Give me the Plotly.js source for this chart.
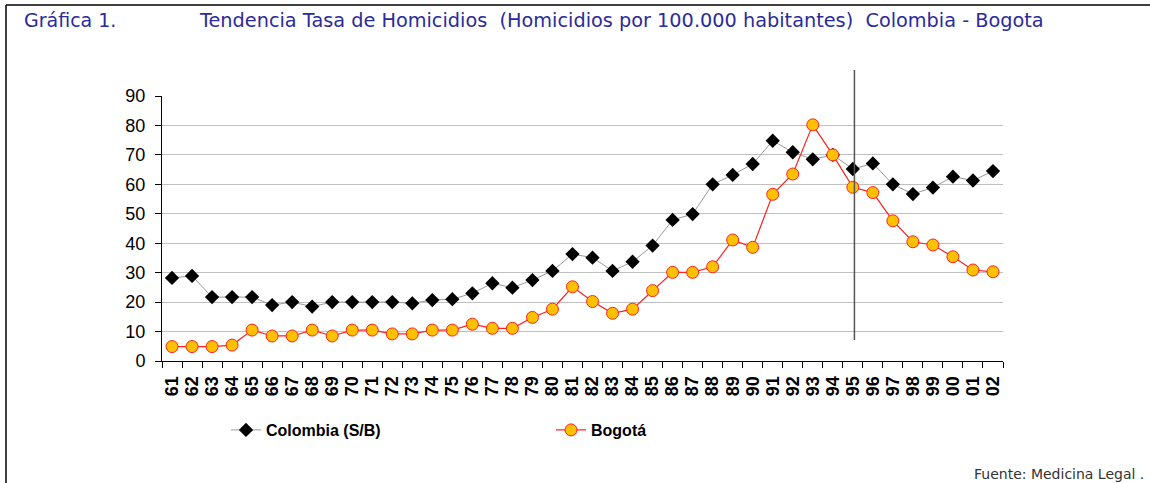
<!DOCTYPE html>
<html>
<head>
<meta charset="utf-8">
<script src="https://cdn.plot.ly/plotly-3.0.1.min.js"></script>
<style>
html,body{margin:0;padding:0;background:#fff;}
#chart{width:1150px;height:483px;}
</style>
</head>
<body>
<div id="chart"></div>
<script>
var years = ["61","62","63","64","65","66","67","68","69","70","71","72","73","74","75","76","77","78","79","80","81","82","83","84","85","86","87","88","89","90","91","92","93","94","95","96","97","98","99","00","01","02"];
var colombia = [28.2,28.9,21.7,21.7,21.7,19.0,20.0,18.5,20.0,20.0,20.0,20.0,19.6,20.7,21.0,23.0,26.4,24.9,27.5,30.6,36.3,35.1,30.6,33.7,39.2,47.9,49.9,60.0,63.2,66.9,74.8,70.9,68.5,70.0,65.2,67.1,60.0,56.7,58.9,62.6,61.3,64.5];
var bogota = [4.9,4.9,4.9,5.4,10.5,8.5,8.5,10.5,8.5,10.5,10.5,9.2,9.2,10.5,10.5,12.5,11.1,11.1,14.8,17.6,25.2,20.2,16.2,17.6,23.9,30.1,30.1,32.0,41.1,38.6,56.6,63.5,80.2,70.0,59.0,57.2,47.6,40.5,39.4,35.4,30.9,30.3];
var seriesNames = ["Colombia (S/B)", "Bogotá"];
var chartTitle = "Tendencia Tasa de Homicidios  (Homicidios por 100.000 habitantes)  Colombia - Bogota";
var chartLabel = "Gráfica 1.";
var sourceText = "Fuente: Medicina Legal .";

var traces = [
  {x: years, y: colombia, name: seriesNames[0], type: "scatter", mode: "lines+markers",
   line: {color: "#999999", width: 1},
   marker: {symbol: "diamond", size: 11, color: "#000000", line: {color: "#000000", width: 0}},
   legend: "legend"},
  {x: years, y: bogota, name: seriesNames[1], type: "scatter", mode: "lines+markers",
   line: {color: "#ff2020", width: 1.2},
   marker: {symbol: "circle", size: 12, color: "#ffc000", line: {color: "#ff2020", width: 1}},
   legend: "legend2"}
];

var L = 162, R = 1003, T = 96, B = 361, W = 1150, H = 483;
function px(x){ return (x - L) / (R - L); }
function py(y){ return (B - y) / (B - T); }

var layout = {
  width: W, height: H,
  margin: {l: L, r: W - R, t: T, b: H - B, pad: 0},
  paper_bgcolor: "#ffffff", plot_bgcolor: "#ffffff",
  font: {family: "Liberation Sans, Arial, sans-serif", color: "#000000"},
  xaxis: {type: "category", range: [-0.5, years.length - 0.5], tickmode: "array", tickvals: years, ticktext: years,
          tickson: "boundaries", ticks: "outside", ticklen: 6, tickcolor: "#000",
          showline: true, linecolor: "#000", linewidth: 1, showgrid: false, tickangle: -90,
          ticklabelstandoff: 7,
          tickfont: {family: "Liberation Sans, Arial, sans-serif", size: 18, color: "#000", weight: "bold"},
          fixedrange: true, zeroline: false},
  yaxis: {range: [0, 90], dtick: 10, tick0: 0, ticks: "outside", ticklen: 6, tickcolor: "#000",
          showline: true, linecolor: "#000", linewidth: 1, showgrid: true, gridcolor: "#c0c0c0", gridwidth: 1,
          zeroline: false, ticklabelstandoff: 6,
          tickfont: {family: "Liberation Sans, Arial, sans-serif", size: 18, color: "#000"}},
  showlegend: true,
  legend: {orientation: "h", x: px(226), y: py(430), xanchor: "left", yanchor: "middle",
           font: {size: 16, weight: "bold", color: "#000"}, bgcolor: "rgba(0,0,0,0)"},
  legend2: {orientation: "h", x: px(551), y: py(430), xanchor: "left", yanchor: "middle",
           font: {size: 16, weight: "bold", color: "#000"}, bgcolor: "rgba(0,0,0,0)"},
  shapes: [
    {type: "line", xref: "x", yref: "paper", x0: 34.08, x1: 34.08, y0: py(340), y1: py(70),
     line: {color: "#555555", width: 1.5}},
    {type: "line", xref: "paper", yref: "paper", x0: px(6), x1: px(1150), y0: py(5), y1: py(5),
     line: {color: "#000", width: 1.5}},
    {type: "line", xref: "paper", yref: "paper", x0: px(6), x1: px(6), y0: py(5), y1: py(483),
     line: {color: "#000", width: 1.5}}
  ],
  annotations: [
    {text: chartLabel, xref: "paper", yref: "paper", x: px(22), y: py(20), xanchor: "left", yanchor: "middle",
     showarrow: false, font: {family: "DejaVu Sans, sans-serif", size: 19, color: "#2b2b9c"}},
    {text: chartTitle, xref: "paper", yref: "paper", x: px(197), y: py(20), xanchor: "left", yanchor: "middle",
     showarrow: false, font: {family: "DejaVu Sans, sans-serif", size: 19.3, color: "#2b2b9c"}},
    {text: sourceText, xref: "paper", yref: "paper", x: px(1146), y: py(474), xanchor: "right", yanchor: "middle",
     showarrow: false, font: {family: "DejaVu Sans, sans-serif", size: 14, color: "#333"}}
  ]
};

Plotly.newPlot("chart", traces, layout, {displayModeBar: false, staticPlot: true});
</script>
</body>
</html>
